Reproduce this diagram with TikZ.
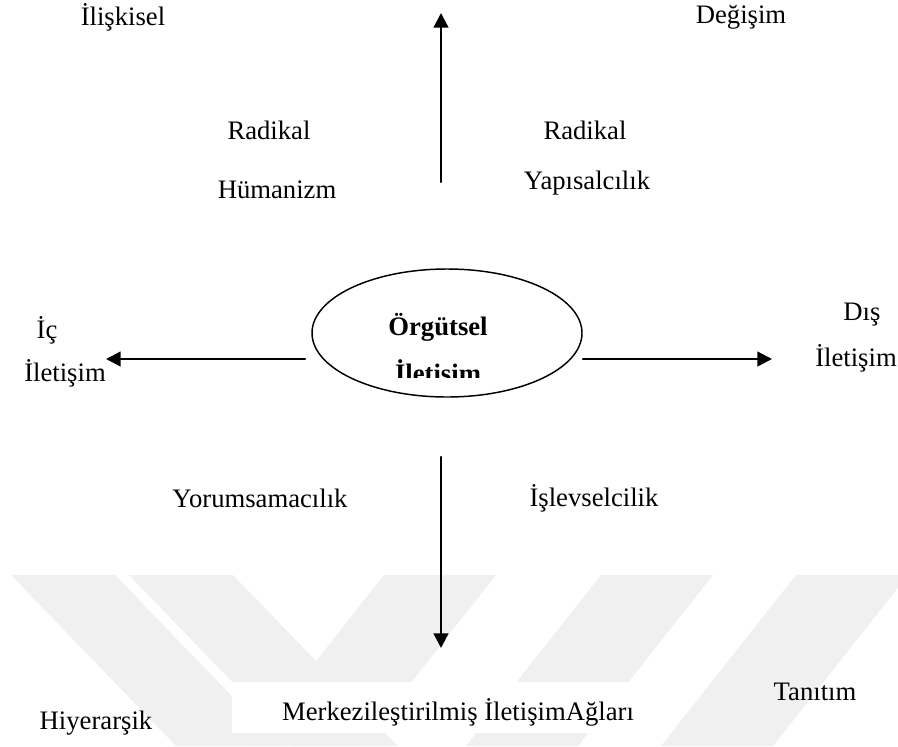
\documentclass[tikz,border=0pt]{standalone}
\usepackage{fontspec}
\setmainfont{Liberation Serif}
\usetikzlibrary{arrows.meta,shapes.geometric}
\begin{document}
\begin{tikzpicture}[x=.75pt,y=-.75pt,line join=round,line cap=round,>={Triangle[length=11pt,width=11pt]},
	lbl/.style={font=\fontsize{20}{24}\selectfont,inner sep=0pt},
	lblb/.style={font=\fontsize{20}{24}\selectfont\bfseries,inner sep=0pt},
	axis/.style={->,line width=1.7pt}]
	\useasboundingbox (0,0) rectangle (898,746);
	\def\wm{black!6}
	\foreach \a in {11,129}{
		\fill[\wm] (\a,575)--++(104,0)--++(165,171)--++(-104,0)--cycle;
	}
	\foreach \a in {384,601,796}{
		\fill[\wm] (\a,575)--++(112,0)--++(-135,171)--++(-112,0)--cycle;
	}
	\fill[white] (232,682) rectangle (670,733);
	\node[ellipse,draw,line width=1.1pt,minimum width=202.5pt,minimum height=96pt] (org) at (447,333) {};
	\node[lblb] (orgA) at (438,327) {Örgütsel};
	\begin{scope}
		\clip (380,350) rectangle (500,377);
		\node[lblb] (orgB) at (438,374) {İletişim};
	\end{scope}
	\coordinate (upS) at (441,182); \coordinate (upE) at (441,13);
	\coordinate (dnS) at (441,457); \coordinate (dnE) at (441,648);
	\coordinate (lfS) at (305,359); \coordinate (lfE) at (106,359);
	\coordinate (rtS) at (583,359); \coordinate (rtE) at (772,359);
	\draw[axis] (upS)--(upE);
	\draw[axis] (dnS)--(dnE);
	\draw[axis] (lfS)--(lfE);
	\draw[axis] (rtS)--(rtE);
	\node[lbl] (iliski) at (123,17) {İlişkisel};
	\node[lbl] (degis) at (741,17) {Değişim};
	\node[lbl] (radL) at (269,130) {Radikal};
	\node[lbl] (human) at (277,190) {Hümanizm};
	\node[lbl] (radR) at (585,130) {Radikal};
	\node[lbl] (yapi) at (587,183) {Yapısalcılık};
	\node[lbl] (ic) at (47,330) {İç};
	\node[lbl] (icIlet) at (65,373) {İletişim};
	\node[lbl] (dis) at (862,315) {Dış};
	\node[lbl] (disIlet) at (856,358) {İletişim};
	\node[lbl] (yorum) at (260,498) {Yorumsamacılık};
	\node[lbl] (islev) at (594,498) {İşlevselcilik};
	\node[lbl] (merkez) at (458,712) {Merkezileştirilmiş İletişimAğları};
	\node[lbl] (tanit) at (815,692) {Tanıtım};
	\node[lbl] (hiyer) at (96,723) {Hiyerarşik};
\end{tikzpicture}
\end{document}
